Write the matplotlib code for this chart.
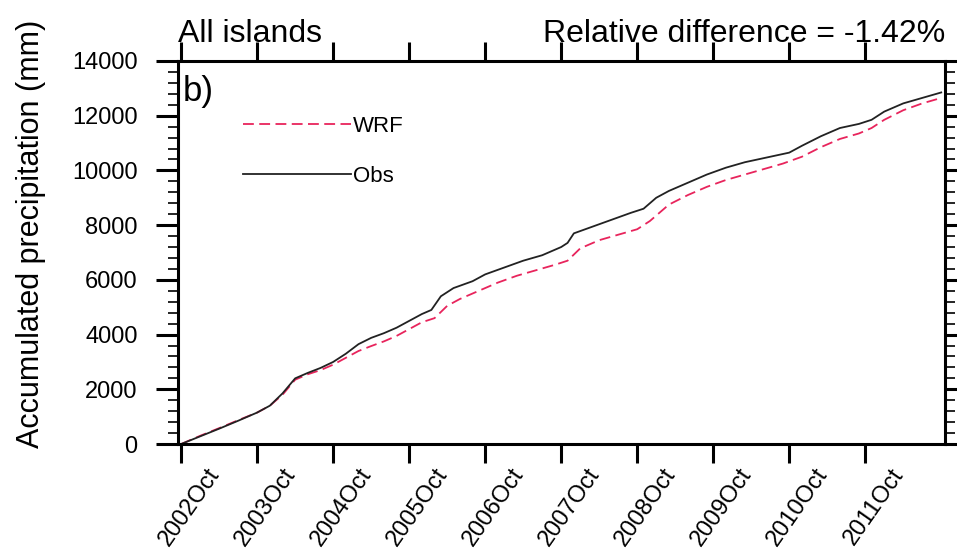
import matplotlib
matplotlib.use('Agg')
import matplotlib.pyplot as plt
from matplotlib.ticker import MultipleLocator
import matplotlib.transforms as mtransforms

# months since 2002 Oct, accumulated precipitation (mm)
obs_month = [0, 3, 6, 9, 12, 14, 16, 18, 20, 22, 24, 26, 28, 30, 32, 34, 36, 38, 39.5, 41,
             43, 46, 48, 51, 54, 57, 60, 61, 62, 65, 68, 71, 73, 75, 77, 80, 83, 86, 89, 92,
             96, 98, 101, 104, 107, 109, 111, 114, 117, 120]
obs_val = [0, 280, 560, 850, 1150, 1400, 1850, 2400, 2600, 2780, 3000, 3300, 3650, 3880, 4050,
           4250, 4500, 4750, 4900, 5400, 5700, 5950, 6200, 6450, 6700, 6900, 7200, 7350, 7700,
           7950, 8200, 8450, 8600, 9000, 9250, 9550, 9850, 10100, 10300, 10450, 10650, 10900,
           11250, 11550, 11700, 11850, 12150, 12450, 12650, 12850]

wrf_month = [0, 3, 6, 9, 12, 14, 16, 18, 20, 22, 24, 26, 28, 30, 32, 34, 36, 38, 40, 42,
             44, 47, 50, 53, 56, 59, 61, 63, 66, 69, 72, 74, 77, 80, 83, 86, 89, 92, 95, 98,
             101, 104, 107, 109, 111, 114, 117, 120]
wrf_val = [0, 300, 580, 870, 1150, 1400, 1800, 2350, 2550, 2700, 2900, 3150, 3400, 3580, 3750,
           3950, 4200, 4450, 4600, 5050, 5300, 5600, 5900, 6150, 6350, 6550, 6700, 7150, 7450,
           7650, 7850, 8150, 8750, 9100, 9400, 9650, 9850, 10050, 10250, 10500, 10850, 11150,
           11350, 11550, 11850, 12200, 12450, 12650]

tick_months = [0, 12, 24, 36, 48, 60, 72, 84, 96, 108]
tick_labels = ['2002Oct', '2003Oct', '2004Oct', '2005Oct', '2006Oct',
               '2007Oct', '2008Oct', '2009Oct', '2010Oct', '2011Oct']

plt.rcParams['font.family'] = ['Liberation Sans', 'DejaVu Sans']

fig = plt.figure(figsize=(9.57, 5.58), dpi=100)
ax = fig.add_axes([0.186, 0.2043, 0.8015, 0.6864])

ax.plot(wrf_month, wrf_val, color='#e8245c', lw=1.3, dashes=(6, 3), label='WRF')
ax.plot(obs_month, obs_val, color='#222222', lw=1.3, label='Obs')

ax.set_xlim(-0.5, 120.6)
ax.set_ylim(0, 14000)
ax.yaxis.set_major_locator(MultipleLocator(2000))
ax.yaxis.set_minor_locator(MultipleLocator(400))

for s in ax.spines.values():
    s.set_linewidth(2.2)
ax.tick_params(axis='x', which='major', direction='out', length=14, width=2.2,
               top=True, bottom=True, pad=5)
ax.tick_params(axis='y', which='major', direction='out', length=16, width=2.2,
               left=True, right=True, labelsize=17, pad=13)
ax.tick_params(axis='y', which='minor', direction='out', length=7, width=1.2,
               left=True, right=True)

ax.set_xticks(tick_months)
ax.set_xticklabels(tick_labels, rotation=55, ha='right', va='center',
                   rotation_mode='anchor', fontsize=17)
offset = mtransforms.ScaledTranslation(34 / 100, 0, fig.dpi_scale_trans)
for lab in ax.get_xticklabels():
    lab.set_transform(lab.get_transform() + offset)

ax.set_ylabel('Accumulated precipitation (mm)', fontsize=22)
ax.yaxis.set_label_coords(-0.172, 0.548)
ax.set_title('All islands', loc='left', fontsize=23, pad=14)
ax.set_title('Relative difference = -1.42%', loc='right', fontsize=23, pad=14)
ax.text(0.0065, 0.964, 'b)', transform=ax.transAxes, fontsize=25, ha='left', va='top')

ax.legend(loc='upper left', bbox_to_anchor=(0.085, 0.856), frameon=False, fontsize=16,
          handlelength=4.85, handletextpad=0.1, labelspacing=1.3, borderpad=0, borderaxespad=0)

fig.savefig('out.png', dpi=100)
